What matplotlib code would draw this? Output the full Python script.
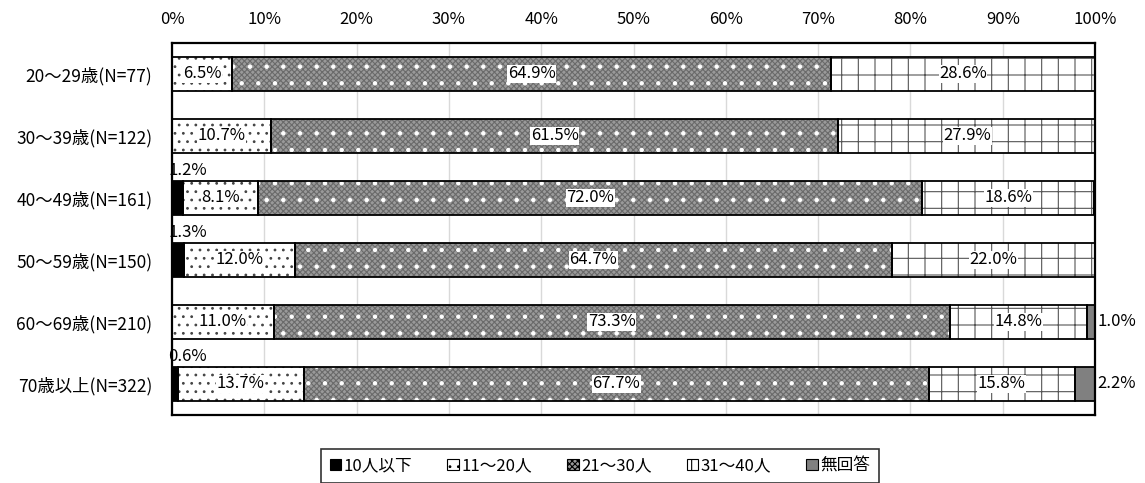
import matplotlib
matplotlib.use("Agg")
import matplotlib.pyplot as plt
from matplotlib.patches import Patch
import numpy as np

plt.rcParams['font.family'] = ['Noto Sans CJK JP', 'DejaVu Sans']
plt.rcParams['hatch.linewidth'] = 0.8

categories = ['20～29歳(N=77)', '30～39歳(N=122)', '40～49歳(N=161)',
              '50～59歳(N=150)', '60～69歳(N=210)', '70歳以上(N=322)']
series_names = ['10人以下', '11～20人', '21～30人', '31～40人', '無回答']
v_10 = [0.0, 0.0, 1.2, 1.3, 0.0, 0.6]
v_11_20 = [6.5, 10.7, 8.1, 12.0, 11.0, 13.7]
v_21_30 = [64.9, 61.5, 72.0, 64.7, 73.3, 67.7]
v_31_40 = [28.6, 27.9, 18.6, 22.0, 14.8, 15.8]
v_none = [0.0, 0.0, 0.0, 0.0, 1.0, 2.2]
x_ticks = [0, 10, 20, 30, 40, 50, 60, 70, 80, 90, 100]
x_ticklabels = [f'{t}%' for t in x_ticks]

series = [v_10, v_11_20, v_21_30, v_31_40, v_none]
# each style: list of (face, hatch, hatch colour) layers
styles = [
    [('black', None, 'black')],
    [('white', '..', '#444444')],
    [('#9a9a9a', 'xxxxxx', '#6a6a6a'), ('none', '.', 'white')],
    [('white', '+', '#555555')],
    [('#808080', None, '#808080')],
]

fig = plt.figure(figsize=(11.45, 4.83), dpi=100)
ax = fig.add_axes([172/1145, 1-415/483, 923/1145, 372/483])

y = np.arange(len(categories))
h = 0.56
left = np.zeros(len(categories))
for vals, layers in zip(series, styles):
    vals = np.array(vals)
    for face, hatch, hcol in layers:
        ax.barh(y, vals, left=left, height=h, color=face,
                edgecolor=hcol, hatch=hatch, linewidth=0, zorder=2)
    ax.barh(y, vals, left=left, height=h, fill=False,
            edgecolor='black', linewidth=1.3, zorder=3)
    left += vals

# labels
fs = 12
left = np.zeros(len(categories))
for si, vals in enumerate(series):
    for i, v in enumerate(vals):
        if v <= 0:
            continue
        if si == 0:
            ax.text(-0.4, y[i] - h/2 - 0.02, f'{v:.1f}%', ha='left', va='bottom',
                    fontsize=fs, zorder=5, clip_on=False)
        elif si == 4:
            ax.text(100.3, y[i], f'{v:.1f}%', ha='left', va='center',
                    fontsize=fs, zorder=5, clip_on=False)
        else:
            ax.text(left[i] + v/2, y[i], f'{v:.1f}%', ha='center', va='center',
                    fontsize=fs, zorder=5,
                    bbox=dict(facecolor='white', edgecolor='none', pad=0.4))
    left += np.array(vals)

ax.set_xlim(0, 100)
ax.set_ylim(len(categories) - 0.5, -0.5)
ax.set_yticks(y)
ax.set_yticklabels(categories, fontsize=12.5)
ax.set_xticks(x_ticks)
ax.set_xticklabels(x_ticklabels, fontsize=fs)
ax.xaxis.tick_top()
ax.tick_params(axis='x', length=0, pad=11)
ax.tick_params(axis='y', length=0, pad=14)
ax.grid(axis='x', color='#d9d9d9', linewidth=1, zorder=0)
ax.set_axisbelow(True)
for s in ax.spines.values():
    s.set_linewidth(1.6)
    s.set_color('black')

handles = []
for layers in styles:
    face, hatch, hcol = layers[0]
    handles.append(Patch(facecolor=face, edgecolor='black', hatch=hatch,
                         linewidth=0.8))
leg = fig.legend(handles, series_names, loc='upper center', ncol=5,
                 bbox_to_anchor=(600/1145, 1 - 449/483), fontsize=12,
                 frameon=True, fancybox=False, edgecolor='black',
                 handlelength=0.7, handleheight=0.7, handletextpad=0.15,
                 columnspacing=2.1, borderpad=0.5, borderaxespad=0)
leg.get_frame().set_linewidth(1.2)

fig.savefig('out.png', dpi=100)
